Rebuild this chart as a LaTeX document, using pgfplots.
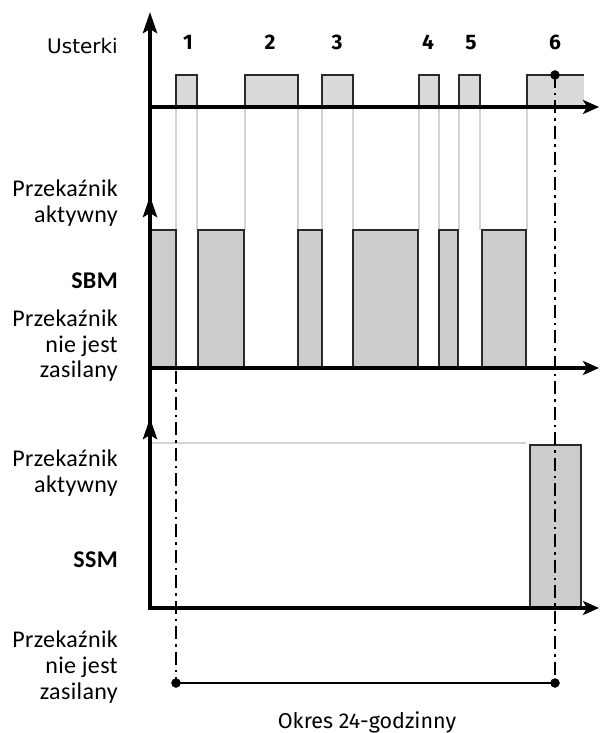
\documentclass[border=0pt]{standalone}
\usepackage{pgfplots}
\pgfplotsset{compat=1.18}
\usetikzlibrary{arrows.meta}
\usepackage{fontspec}
\setmainfont{Carlito}[LetterSpace=1.5]
\newfontfamily\fira{Fira Sans}
\newfontfamily\dejavu{DejaVu Sans}
\definecolor{boxA}{HTML}{D9D9D9}
\definecolor{boxB}{HTML}{CCCCCC}
\definecolor{conn}{HTML}{D3D3D3}
\definecolor{edge}{HTML}{2A2A2A}
\begin{document}
\begin{tikzpicture}
\begin{axis}[x=1pt,y=1pt,y dir=reverse,xmin=0,xmax=599,ymin=0,ymax=733,
  hide axis,clip=false,unbounded coords=jump,
  every axis plot/.append style={forget plot}]
\addplot[draw=none] coordinates {(0,0) (599,733)};
% connector lines (light grey)
\addplot[conn,line width=2.6pt] coordinates {
 (176,107) (176,230) (176,nan)
 (197,107) (197,230) (197,nan)
 (245,107) (245,230) (245,nan)
 (298,107) (298,230) (298,nan)
 (322,107) (322,230) (322,nan)
 (353,107) (353,230) (353,nan)
 (419,107) (419,230) (419,nan)
 (439,107) (439,230) (439,nan)
 (459,107) (459,230) (459,nan)
 (480,107) (480,230) (480,nan)
 (527,107) (527,230)};
% SSM grey level line
\addplot[conn,line width=2.6pt] coordinates {(150,443) (526,443)};
% Usterki boxes
\addplot[fill=boxA,draw=edge,line width=1.6pt] coordinates {(176,107) (176,75) (197,75) (197,107)};
\addplot[fill=boxA,draw=edge,line width=1.6pt] coordinates {(245,107) (245,75) (298,75) (298,107)};
\addplot[fill=boxA,draw=edge,line width=1.6pt] coordinates {(322,107) (322,75) (353,75) (353,107)};
\addplot[fill=boxA,draw=edge,line width=1.6pt] coordinates {(419,107) (419,75) (439,75) (439,107)};
\addplot[fill=boxA,draw=edge,line width=1.6pt] coordinates {(459,107) (459,75) (480,75) (480,107)};
\addplot[fill=boxA,draw=none] coordinates {(527,107) (527,75) (584,75) (584,107)};
\addplot[draw=edge,line width=1.6pt] coordinates {(527,107) (527,75) (584,75)};
% SBM boxes
\addplot[fill=boxB,draw=edge,line width=1.6pt] coordinates {(150,368) (150,230) (176,230) (176,368)};
\addplot[fill=boxB,draw=edge,line width=1.6pt] coordinates {(198,368) (198,230) (244,230) (244,368)};
\addplot[fill=boxB,draw=edge,line width=1.6pt] coordinates {(298,368) (298,230) (322,230) (322,368)};
\addplot[fill=boxB,draw=edge,line width=1.6pt] coordinates {(353,368) (353,230) (418,230) (418,368)};
\addplot[fill=boxB,draw=edge,line width=1.6pt] coordinates {(439,368) (439,230) (458,230) (458,368)};
\addplot[fill=boxB,draw=edge,line width=1.6pt] coordinates {(482,368) (482,230) (526,230) (526,368)};
% SSM box
\addplot[fill=boxB,draw=edge,line width=1.6pt] coordinates {(530,608) (530,445) (581,445) (581,608)};
% axes
\addplot[black,line width=4pt] coordinates {(150,610) (150,30)};
\addplot[black,line width=4pt,-{Stealth[length=21pt,width=14pt,inset=4pt]}] coordinates {(150,60) (150,12)};
\addplot[black,line width=4pt,-{Stealth[length=21pt,width=14pt,inset=4pt]}] coordinates {(150,260) (150,196)};
\addplot[black,line width=4pt,-{Stealth[length=21pt,width=14pt,inset=4pt]}] coordinates {(150,480) (150,418)};
\addplot[black,line width=4pt,-{Stealth[length=16pt,width=14pt,inset=4pt]}] coordinates {(148,107) (599,107)};
\addplot[black,line width=4pt,-{Stealth[length=16pt,width=14pt,inset=4pt]}] coordinates {(148,368) (599,368)};
\addplot[black,line width=4pt,-{Stealth[length=16pt,width=14pt,inset=4pt]}] coordinates {(148,608) (599,608)};
% dash-dot lines
\addplot[black,line width=2.6pt,dash pattern=on 13pt off 5pt on 2.5pt off 5pt] coordinates {(176,371) (176,683)};
\addplot[black,line width=2.6pt,dash pattern=on 13pt off 5pt on 2.5pt off 5pt] coordinates {(555,75) (555,683)};
\addplot[black,line width=2pt] coordinates {(176,683) (555,683)};
\addplot[only marks,mark=*,mark size=4.5pt,black] coordinates {(555,75) (176,683) (555,683)};
% labels
\begin{scope}[every node/.style={font=\fontsize{24}{26}\selectfont,anchor=base east,inner sep=0pt}]
\node at (axis cs:118,54) {\dejavu\fontsize{20}{24}\selectfont Usterki};
\node at (axis cs:118,196) {Przekaźnik};
\node at (axis cs:118,222) {aktywny};
\node at (axis cs:118,288) {\bfseries SBM};
\node at (axis cs:118,326) {Przekaźnik};
\node at (axis cs:118,352) {nie jest};
\node at (axis cs:118,377) {zasilany};
\node at (axis cs:118,466) {Przekaźnik};
\node at (axis cs:118,492) {aktywny};
\node at (axis cs:118,567) {\bfseries SSM};
\node at (axis cs:118,647) {Przekaźnik};
\node at (axis cs:118,673) {nie jest};
\node at (axis cs:118,699) {zasilany};
\end{scope}
\begin{scope}[every node/.style={font=\fira\bfseries\fontsize{21}{24}\selectfont,anchor=base,inner sep=0pt}]
\node at (axis cs:188,50) {1};
\node at (axis cs:270,50) {2};
\node at (axis cs:337,50) {3};
\node at (axis cs:428,50) {4};
\node at (axis cs:471,50) {5};
\node at (axis cs:555,50) {6};
\end{scope}
\node[anchor=base,inner sep=0pt,font=\fira\fontsize{21.5}{23}\selectfont] at (axis cs:367,728) {Okres 24-godzinny};
\end{axis}
\end{tikzpicture}
\end{document}
